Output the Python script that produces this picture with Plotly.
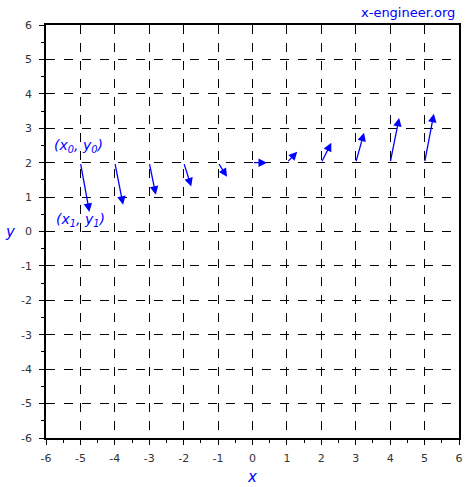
import plotly.graph_objects as go

x0 = [-5, -4, -3, -2, -1, 0, 1, 2, 3, 4, 5]
y0 = [2, 2, 2, 2, 2, 2, 2, 2, 2, 2, 2]
dx = [0.26, 0.24, 0.19, 0.22, 0.26, 0.42, 0.30, 0.29, 0.24, 0.26, 0.27]
dy = [-1.43, -1.22, -0.93, -0.69, -0.41, 0.0, 0.32, 0.58, 0.87, 1.30, 1.42]
tick_vals = list(range(-6, 7))
tick_text = [str(v) for v in tick_vals]

fig = go.Figure()
fig.add_trace(go.Scatter(x=[-6, 6], y=[-6, 6], mode="markers",
                         marker=dict(opacity=0), hoverinfo="skip", showlegend=False))

for a, b, u, v in zip(x0, y0, dx, dy):
    fig.add_annotation(x=a + u, y=b + v, ax=a, ay=b, xref="x", yref="y",
                       axref="x", ayref="y", showarrow=True, arrowhead=2,
                       arrowsize=1.3, arrowwidth=1.3, arrowcolor="#0000ff", text="")

fig.add_annotation(x=-5.07, y=2.49, xref="x", yref="y", showarrow=False,
                   text="<i>(x<sub>0</sub>, y<sub>0</sub>)</i>",
                   font=dict(family="DejaVu Sans", size=14, color="#0000ff"))
fig.add_annotation(x=-5.01, y=0.33, xref="x", yref="y", showarrow=False,
                   text="<i>(x<sub>1</sub>, y<sub>1</sub>)</i>",
                   font=dict(family="DejaVu Sans", size=14, color="#0000ff"))
fig.add_annotation(x=1, y=1, xref="paper", yref="paper", yshift=13, xshift=-2,
                   xanchor="right", yanchor="middle", showarrow=False,
                   text="x-engineer.org",
                   font=dict(family="DejaVu Sans", size=13, color="#0000ff"))
fig.add_annotation(x=0, y=0, xref="paper", yref="y", xshift=-36,
                   xanchor="center", yanchor="middle", showarrow=False,
                   text="<i>y</i>",
                   font=dict(family="DejaVu Sans", size=15, color="#0000ff"))

axis_common = dict(range=[-6, 6], tickvals=tick_vals, ticktext=tick_text,
                   showgrid=True, gridcolor="black", griddash="dash", gridwidth=1,
                   showline=True, linecolor="black", linewidth=1.5, mirror=True,
                   ticks="outside", ticklen=5, tickcolor="black",
                   tickfont=dict(family="DejaVu Sans", size=11, color="#333333"),
                   zeroline=False, automargin=False,
                   minor=dict(dtick=0.5, ticks="outside", ticklen=3, tickcolor="black",
                              showgrid=False))

fig.update_xaxes(**axis_common, ticklabelstandoff=4,
                 title=dict(text="<i>x</i>", standoff=8,
                            font=dict(family="DejaVu Sans", size=15, color="#0000ff")))
fig.update_yaxes(**axis_common, ticklabelstandoff=5)

fig.update_layout(width=470, height=487, margin=dict(l=46, r=11, t=25, b=49),
                  plot_bgcolor="white", paper_bgcolor="white", showlegend=False)

fig.write_html("out.html", config={"displayModeBar": False},
               post_script="document.body.style.margin='0';")
